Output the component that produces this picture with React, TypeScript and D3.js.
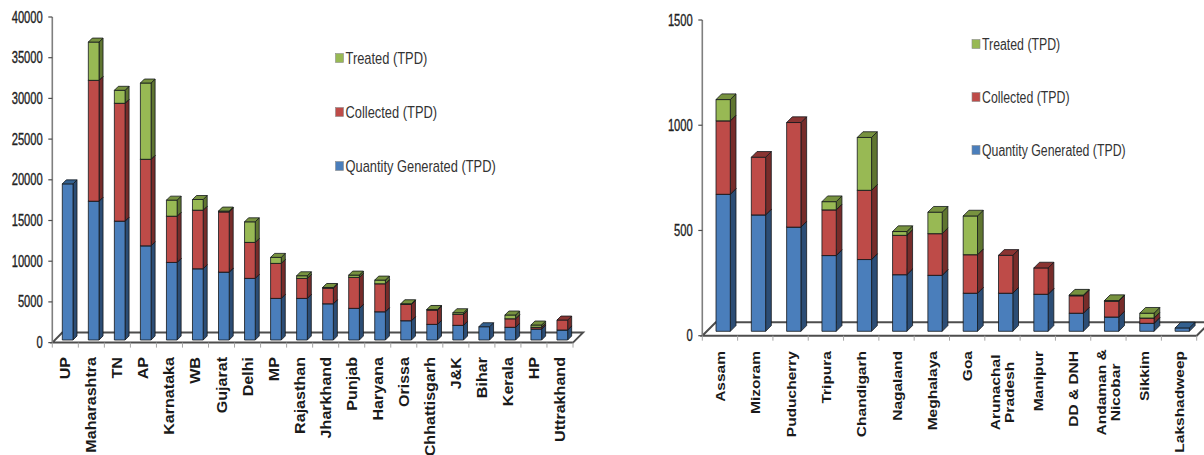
import React from "react";
import * as d3 from "d3";

// Municipal solid waste by state, in tonnes per day (segment heights of each stack)
const stateNames = ["UP","Maharashtra","TN","AP","Karnataka","WB","Gujarat","Delhi","MP","Rajasthan","Jharkhand","Punjab","Haryana","Orissa","Chhattisgarh","J&K","Bihar","Kerala","HP","Uttrakhand"];
const stateGenerated = [19180,17055,14600,11570,9530,8750,8340,7570,5110,5110,4450,3890,3470,2370,1920,1800,1630,1560,1350,1230];
const stateCollected = [0,14845,14480,10630,5680,7200,7400,4420,4300,2460,1930,3800,3440,2010,1760,1350,0,1050,210,1220];
const stateTreated = [0,4700,1595,9370,1970,1310,100,2530,740,320,70,285,450,70,70,200,0,460,280,0];
const stateTicks = [0,5000,10000,15000,20000,25000,30000,35000,40000];

// Smaller states and union territories
const smallNames = ["Assam","Mizoram","Puducherry","Tripura","Chandigarh","Nagaland","Meghalaya","Goa","Arunachal\nPradesh","Manipur","DD & DNH","Andaman &\nNicobar","Sikkim","Lakshadweep"];
const smallGenerated = [651,553,495,360,341,269,266,181,181,176,86,68,38,16];
const smallCollected = [349,274,497,217,329,187,198,183,180,125,83,75,25,0];
const smallTreated = [101,0,0,39,251,18,102,184,0,0,3,3,23,0];
const smallTicks = [0,500,1000,1500];

const seriesLabels = ["Quantity Generated (TPD)", "Collected (TPD)", "Treated (TPD)"];
const faceColors = ["#4a7ebb", "#be4b48", "#98b954"];
const sideColors = ["#2c4d75", "#772c2a", "#5f7530"];
const capColors = ["#33608f", "#8a3432", "#77923f"];
const seriesKeys = ["generated", "collected", "treated"];

const FONT = "'Liberation Sans', Arial, sans-serif";

type PanelProps = {
  names: string[];
  generated: number[];
  collected: number[];
  treated: number[];
  ticks: number[];
  axisX: number;
  axisEndX: number;
  axisTopY: number;
  axisZeroY: number;
  floorDepth: [number, number];
  barInset: number;
  barWidth: number;
  barDepth: number;
  baseLift: number;
  tickScale: number;
  labelFont: number;
  labelStretch: number;
  labelTop: number;
  legendX: number;
  legendYs: number[];
  legendScale: number;
};

function Panel(p: PanelProps) {
  const maxTick = p.ticks[p.ticks.length - 1];
  const y = d3.scaleLinear().domain([0, maxTick]).range([p.axisZeroY, p.axisTopY]);
  const x = d3.scaleBand<string>().domain(p.names).range([p.axisX, p.axisEndX]);
  const rows = p.names.map((name, i) => ({
    name,
    generated: p.generated[i],
    collected: p.collected[i],
    treated: p.treated[i],
  }));
  const layers = d3.stack<any>().keys(seriesKeys)(rows);
  const [dx, dy] = p.floorDepth;
  const pts = (a: number[][]) => a.map((q) => q.join(",")).join(" ");
  const floorPts = pts([
    [p.axisX, p.axisZeroY],
    [p.axisX + dx, p.axisZeroY - dy],
    [p.axisEndX + dx, p.axisZeroY - dy],
    [p.axisEndX, p.axisZeroY],
  ]);

  return (
    <g fontFamily={FONT}>
      <polygon points={floorPts} fill="#fff" stroke="#4d4d4d" strokeWidth={2} />
      <line x1={p.axisX} x2={p.axisX} y1={p.axisTopY} y2={p.axisZeroY} stroke="#7f7f7f" strokeWidth={1.6} />
      {p.ticks.map((t) => (
        <g key={t}>
          <line x1={p.axisX - 4} x2={p.axisX} y1={y(t)} y2={y(t)} stroke="#4d4d4d" strokeWidth={1.2} />
          <text
            transform={`translate(${p.axisX - 9.5},${y(t) + 5.5}) scale(${p.tickScale},1)`}
            textAnchor="end"
            fontSize={16}
            fill="#222"
            stroke="#222"
            strokeWidth={0.35}
          >
            {t}
          </text>
        </g>
      ))}
      {d3.range(p.names.length + 1).map((i) => {
        const tx = p.axisX + i * x.step();
        return <line key={i} x1={tx} x2={tx} y1={p.axisZeroY} y2={p.axisZeroY + 5} stroke="#a6a6a6" strokeWidth={1} />;
      })}
      {p.names.map((name) => {
        const lines = name.split("\n");
        const cx = (x(name) as number) + x.bandwidth() / 2;
        return lines.map((ln, k) => (
          <text
            key={ln}
            transform={`translate(${cx + 5 + (k - (lines.length - 1) / 2) * 14},${p.labelTop}) rotate(-90) scale(${p.labelStretch},1)`}
            textAnchor={lines.length > 1 ? "middle" : "end"}
            dx={lines.length > 1 ? -36 : 0}
            fontSize={p.labelFont}
            fontWeight="bold"
            fill="#1a1a1a"
          >
            {ln}
          </text>
        ));
      })}
      {p.names.map((name, i) => {
        const x0 = (x(name) as number) + p.barInset;
        const x1 = x0 + p.barWidth;
        const d = p.barDepth;
        const yAt = (v: number) => y(v) - p.baseLift;
        return (
          <g key={name} stroke="#14181c" strokeWidth={0.8} strokeLinejoin="round">
            {layers.map((layer, s) => {
              const [v0, v1] = layer[i];
              if (v1 <= v0) return null;
              const top = yAt(v1);
              const bot = yAt(v0);
              return (
                <g key={s}>
                  <polygon points={pts([[x1, bot], [x1 + d, bot - d], [x1 + d, top - d], [x1, top]])} fill={sideColors[s]} />
                  <rect x={x0} y={top} width={p.barWidth} height={bot - top} fill={faceColors[s]} />
                  <polygon points={pts([[x0, top], [x0 + d, top - d], [x1 + d, top - d], [x1, top]])} fill={capColors[s]} />
                </g>
              );
            })}
          </g>
        );
      })}
      {[2, 1, 0].map((s, k) => (
        <g key={s}>
          <rect
            x={p.legendX}
            y={p.legendYs[k] - 4.5}
            width={8}
            height={9}
            fill={faceColors[s]}
            stroke="#8c8c8c"
            strokeWidth={0.6}
          />
          <text
            transform={`translate(${p.legendX + 10},${p.legendYs[k] + 5.5}) scale(${p.legendScale},1)`}
            fontSize={16}
            fill="#333"
          >
            {seriesLabels[s]}
          </text>
        </g>
      ))}
    </g>
  );
}

export default function App() {
  return (
    <svg
      width={1204}
      height={455}
      viewBox="0 0 1204 455"
      style={{ position: "absolute", left: 0, top: 0, background: "#fff" }}
    >
      <Panel
        names={stateNames}
        generated={stateGenerated}
        collected={stateCollected}
        treated={stateTreated}
        ticks={stateTicks}
        axisX={52.3}
        axisEndX={573}
        axisTopY={17}
        axisZeroY={342.6}
        floorDepth={[10, 10]}
        barInset={10}
        barWidth={10.7}
        barDepth={4}
        baseLift={2.6}
        tickScale={0.7}
        labelFont={14}
        labelStretch={1.15}
        labelTop={357}
        legendX={335.5}
        legendYs={[58, 112, 166]}
        legendScale={0.805}
      />
      <Panel
        names={smallNames}
        generated={smallGenerated}
        collected={smallCollected}
        treated={smallTreated}
        ticks={smallTicks}
        axisX={702.3}
        axisEndX={1196.7}
        axisTopY={20}
        axisZeroY={335.7}
        floorDepth={[13.5, 13.5]}
        barInset={13.7}
        barWidth={14.3}
        barDepth={5.7}
        baseLift={4.4}
        tickScale={0.7}
        labelFont={13.5}
        labelStretch={1.15}
        labelTop={351}
        legendX={972}
        legendYs={[44, 97, 150]}
        legendScale={0.77}
      />
    </svg>
  );
}
